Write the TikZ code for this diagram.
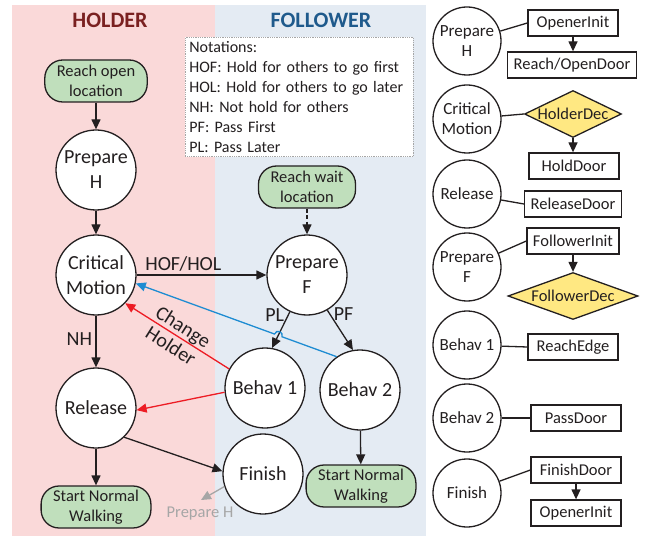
\documentclass[tikz,border=0pt]{standalone}
\usepackage{fontspec}
\setmainfont{Carlito}
\usetikzlibrary{arrows.meta,shapes.geometric,calc,intersections}

\definecolor{ink}{RGB}{35,31,32}
\definecolor{holderbg}{RGB}{250,217,217}
\definecolor{followerbg}{RGB}{228,235,243}
\definecolor{holdertxt}{RGB}{122,32,32}
\definecolor{followertxt}{RGB}{31,90,140}
\definecolor{termgreen}{RGB}{192,223,188}
\definecolor{decyellow}{RGB}{255,232,130}
\definecolor{chgred}{RGB}{237,28,36}
\definecolor{backblue}{RGB}{30,140,210}

\begin{document}
\begin{tikzpicture}[x=1pt,y=1pt,line width=1.3pt,draw=ink,text=ink,
  state/.style={circle, draw, fill=white, minimum size=80pt, inner sep=0pt, align=center, font=\fontsize{20}{25}\selectfont},
  sstate/.style={circle, draw, fill=white, minimum size=68pt, inner sep=0pt, align=center, font=\fontsize{17}{20}\selectfont},
  term/.style={draw, fill=termgreen, rounded corners=18pt, minimum height=42pt, inner xsep=12pt, align=center, font=\fontsize{16.5}{20}\selectfont},
  func/.style={draw, fill=white, minimum width=90pt, minimum height=26pt, inner xsep=6pt, font=\fontsize{16.5}{20}\selectfont},
  dec/.style={diamond, draw, fill=decyellow, inner sep=0pt, minimum height=47pt},
  every label/.style={font=\fontsize{16.5}{20}\selectfont},
  arr/.style={-{Triangle[length=10pt,width=9pt]}},
  lbl/.style={text=ink, font=\fontsize{20}{23}\selectfont}]
  \useasboundingbox (0,0) rectangle (647,536);

  % Background panels
  \fill[holderbg] (12,0) rectangle (215,531);
  \fill[followerbg] (215,0) rectangle (426,531);
  \node[font=\fontsize{22}{26}\selectfont\bfseries, text=holdertxt] (htitle) at (110,516) {HOLDER};
  \node[font=\fontsize{22}{26}\selectfont\bfseries, text=followertxt] (ftitle) at (321,516) {FOLLOWER};

  % Notations
  \node[draw=gray!70, line width=0.8pt, densely dotted, fill=white, anchor=north west, text width=220pt, inner xsep=4pt, inner ysep=4pt, align=left, font=\fontsize{16}{20}\selectfont] (notes) at (185,499)
    {Notations:\\HOF: Hold for others to go first\\HOL: Hold for others to go later\\NH: Not hold for others\\PF: Pass First\\PL: Pass Later};

  % Holder side
  \node[term] (reachopen) at (96,455) {Reach open\\location};
  \node[state] (prepH) at (96,366) {Prepare\\H};
  \node[state] (crit) at (96,261) {Critical\\Motion};
  \node[state] (release) at (96,128) {Release};
  \node[term] (walkH) at (96,29) {Start Normal\\Walking};

  % Follower side
  \node[term] (reachwait) at (307,349) {Reach wait\\location};
  \node[state] (prepF) at (307,261) {Prepare\\F};
  \node[state] (behav1) at (265,148) {Behav 1};
  \node[state] (behav2) at (360,146) {Behav 2};
  \node[state] (finish) at (263,62) {Finish};
  \node[term] (walkF) at (361,50) {Start Normal\\Walking};
  \node[text=gray!70, font=\fontsize{16.5}{20}\selectfont] (nextH) at (200,22) {Prepare H};
  \coordinate (nexttip) at (201,36);

  % Transitions
  \draw[arr] (reachopen) -- (prepH);
  \draw[arr] (prepH) -- (crit);
  \draw[arr] (crit) -- node[lbl, above, pos=0.36] {HOF/HOL} (prepF);
  \draw[arr] (crit) -- node[lbl, left, pos=0.45] {NH} (release);
  \draw[arr] (release) -- (walkH);
  \draw[arr] (release.-46) -- (finish.176);
  \draw[arr, dash pattern=on 4pt off 2.5pt] (reachwait) -- (prepF);
  \draw[arr, name path=plline] (prepF.-115) -- node[lbl, left, pos=0.1] {PL} (behav1.80);
  \draw[arr] (prepF.-60) -- node[lbl, right, pos=0.1] {PF} (behav2.100);
  \draw[arr] (behav2) -- (walkF);
  \draw[arr, chgred] (behav1.152) -- node[lbl, sloped, align=center] {Change\\Holder} (crit.-44);
  \draw[arr, chgred] (behav1.186) -- (release.-3);
  \draw[arr, gray!70] (finish.198) -- (nexttip);

  % Back to holder, hopping over PL
  \path[name path=backln] (behav2.125) -- (crit.-12);
  \path[name intersections={of=plline and backln, by=hop}];
  \draw[arr, backblue] (behav2.125) -- ($(hop)!4pt!(behav2.125)$)
    to[out=70,in=70,looseness=1.7] ($(hop)!4pt!(crit.-12)$) -- (crit.-12);

  % Behaviour lookup
  \node[sstate] (rPrepH) at (467,495) {Prepare\\H};
  \node[sstate] (rCrit) at (467,417) {Critical\\Motion};
  \node[sstate] (rRelease) at (467,342) {Release};
  \node[sstate] (rPrepF) at (467,269) {Prepare\\F};
  \node[sstate] (rBehav1) at (467,191) {Behav 1};
  \node[sstate] (rBehav2) at (467,118) {Behav 2};
  \node[sstate] (rFinish) at (467,43) {Finish};

  \node[func] (openInit) at (573,513) {OpenerInit};
  \node[func] (reachOpen) at (572,471) {Reach/OpenDoor};
  \node[dec, minimum width=97pt, label=center:HolderDec] (holderDec) at (573,422) {};
  \node[func] (holdDoor) at (574,370) {HoldDoor};
  \node[func] (releaseDoor) at (573,332) {ReleaseDoor};
  \node[func] (followInit) at (573,295) {FollowerInit};
  \node[dec, minimum width=130pt, label=center:FollowerDec] (followDec) at (573,240) {};
  \node[func] (reachEdge) at (573,189) {ReachEdge};
  \node[func] (passDoor) at (576,118) {PassDoor};
  \node[func] (finishDoor) at (576,66) {FinishDoor};
  \node[func] (openInit2) at (576,23) {OpenerInit};

  \draw (rPrepH) -- (openInit.west);
  \draw (rCrit) -- (holderDec.west);
  \draw (rRelease) -- (releaseDoor.west);
  \draw (rPrepF) -- (followInit.west);
  \draw (rBehav1) -- (reachEdge.west);
  \draw (rBehav2) -- (passDoor.west);
  \draw (rFinish) -- (finishDoor.west);
  \draw[arr] (openInit.south) -- (openInit.south |- reachOpen.north);
  \draw[arr] (holderDec.south) -- (holderDec.south |- holdDoor.north);
  \draw[arr] (followInit.south) -- (followInit.south |- followDec.north);
  \draw[arr] (finishDoor.south) -- (finishDoor.south |- openInit2.north);
\end{tikzpicture}
\end{document}
